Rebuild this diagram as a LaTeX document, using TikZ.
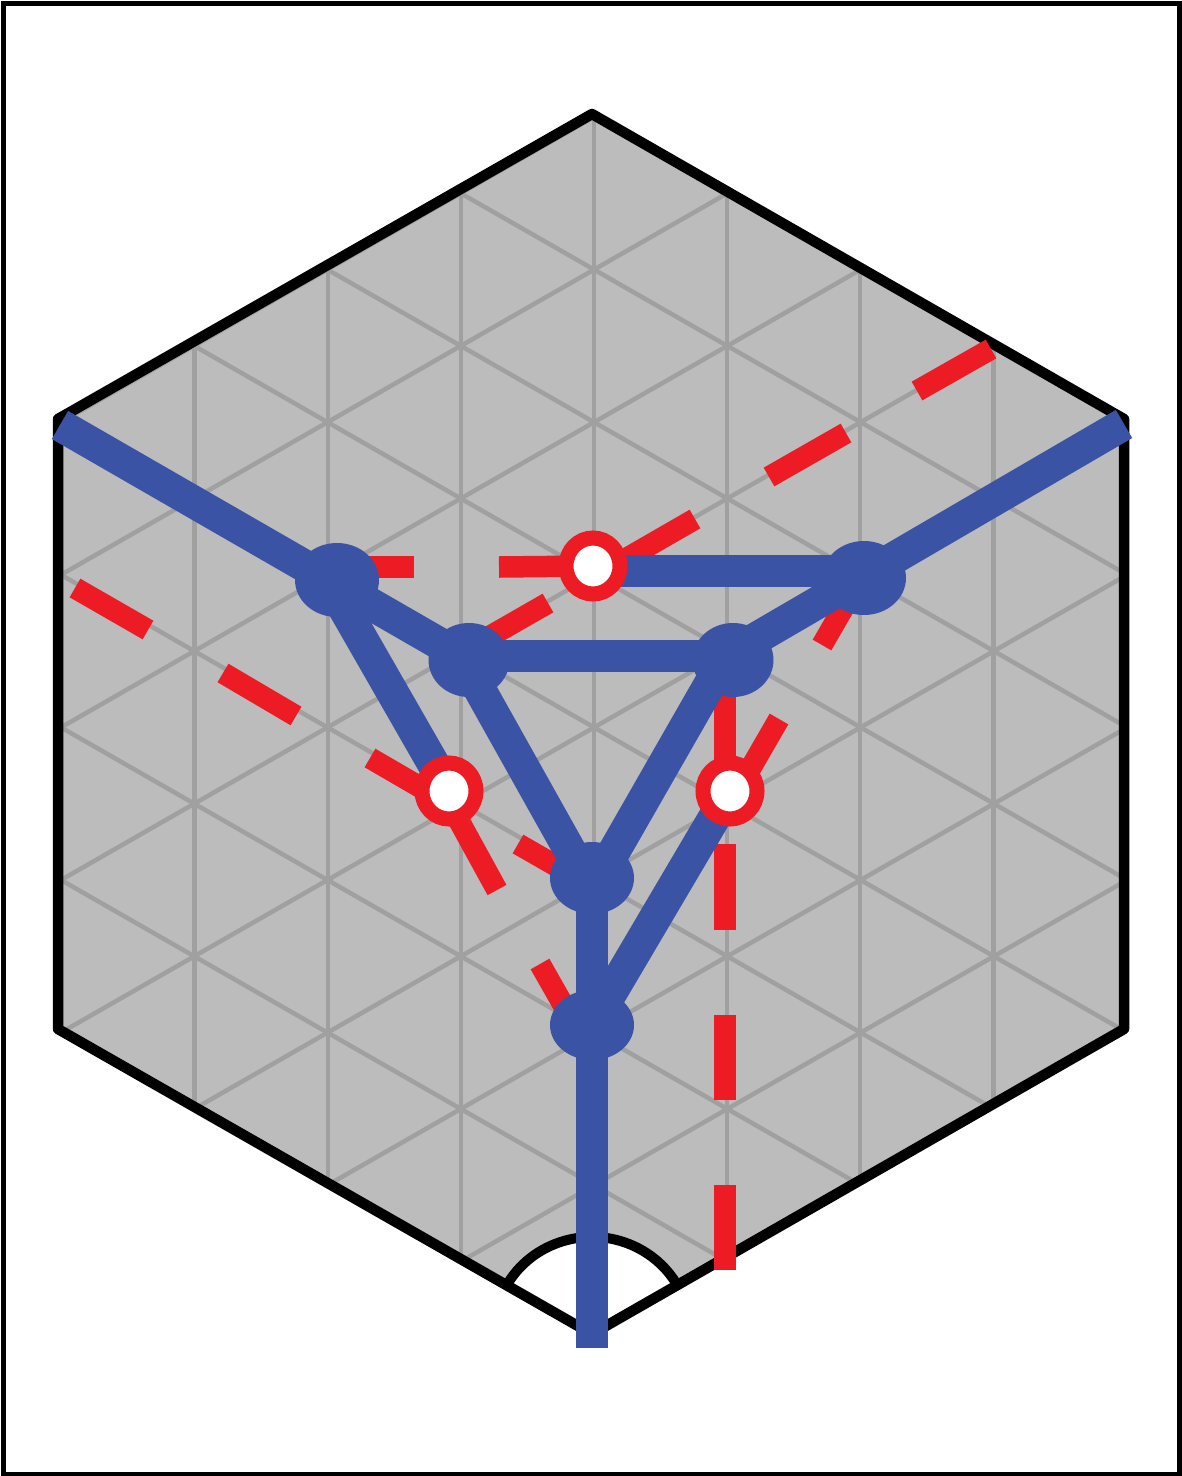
\documentclass[tikz,border=0pt]{standalone}
\usetikzlibrary{shapes.geometric,backgrounds}

\definecolor{cellfill}{RGB}{188,188,188}
\definecolor{gridgray}{RGB}{160,160,160}
\definecolor{webblue}{RGB}{59,83,164}
\definecolor{cutred}{RGB}{237,28,36}

\begin{document}
\begin{tikzpicture}[x=1pt,y=-1pt]
	\tikzset{
		border/.style={line width=10.5pt,line join=round},
		gridline/.style={line width=4.5pt,color=gridgray},
		blueleg/.style={line width=32.5pt,color=webblue},
		redcut/.style={line width=21.5pt,color=cutred},
		vertexdot/.style={ellipse,fill=webblue,minimum width=84pt,minimum height=74pt,inner sep=0pt},
		hollowdot/.style={ellipse,draw=cutred,fill=white,line width=15pt,minimum width=54pt,minimum height=56pt,inner sep=0pt}
	}
	\useasboundingbox (0,0) rectangle (1182,1476);

	% Hexagon corners
	\coordinate (top) at (592,114);
	\coordinate (upright) at (1124,419);
	\coordinate (lowright) at (1124,1029);
	\coordinate (bottom) at (592,1334);
	\coordinate (lowleft) at (58,1029);
	\coordinate (upleft) at (58,419);

	% Free ends of the outer legs
	\coordinate (endleft) at (60,425);
	\coordinate (endright) at (1124,424);
	\coordinate (endbottom) at (592,1348);

	% Filled vertices
	\node[vertexdot] (outerleft) at (337,580) {};
	\node[vertexdot] (outerright) at (864,578) {};
	\node[vertexdot,minimum width=81pt] (innerleft) at (469,660) {};
	\node[vertexdot,minimum width=81pt] (innerright) at (733,660) {};
	\node[vertexdot,minimum height=72pt] (lowerup) at (592,878) {};
	\node[vertexdot,minimum height=70pt] (lowerdown) at (592,1025) {};

	% Hollow vertices
	\node[hollowdot] (holetop) at (593,566) {};
	\node[hollowdot] (holeleft) at (449,791) {};
	\node[hollowdot] (holeright) at (730,791) {};

	% Where the blue legs really meet
	\coordinate (meetleft) at (328,580);
	\coordinate (meetinnerleft) at (461,656);
	\coordinate (meetinnerright) at (726,656);
	\coordinate (meetlow) at (592,890);
	\coordinate (levelhole) at (593,571);
	\coordinate (levelright) at (864,571);

	\begin{scope}[on background layer]
		% Outer frame
		\draw[line width=5pt] (3,3) rectangle (1179,1474);

		% Hexagon with its triangular grid
		\fill[cellfill] (top) -- (upright) -- (lowright) -- (bottom) -- (lowleft) -- (upleft) -- cycle;
		\begin{scope}
			\clip (top) -- (upright) -- (lowright) -- (bottom) -- (lowleft) -- (upleft) -- cycle;
			\foreach \i in {-3,...,3}
				\draw[gridline] ({594+133.1*\i},100) -- ({594+133.1*\i},1350);
			\foreach \k in {-2,...,8} {
				\draw[gridline] (58,{117+152.6*\k-306.9}) -- (1124,{117+152.6*\k+303.4});
				\draw[gridline] (58,{117+152.6*\k+306.9}) -- (1124,{117+152.6*\k-303.4});
			}
		\end{scope}

		% White sector at the bottom corner
		\fill[white] (bottom) -- (508,1283) arc[start angle=149,end angle=31,x radius=98,y radius=-95] -- cycle;
		\draw[line width=10pt] (508,1283) arc[start angle=149,end angle=31,x radius=98,y radius=-95];
		\draw[border] (upleft) -- (top) -- (upright) -- (lowright) -- (bottom) -- (lowleft) -- cycle;

		% Red dashes, upper right diagonal
		\draw[redcut] (991,349) -- (917,391);
		\draw[redcut] (846,433) -- (769,477);
		\draw[redcut] (695,519) -- (610,568);
		\draw[redcut] (548,603) -- (480,642);

		% Red dashes, top row
		\draw[redcut] (340,567) -- (414,567);
		\draw[redcut] (499,567) -- (holetop.center);

		% Red dashes, left diagonal
		\draw[redcut] (75,588) -- (148,630);
		\draw[redcut] (223,673) -- (296,716);
		\draw[redcut] (370,758) -- (425,790);
		\draw[redcut] (518,844) -- (565,871);

		% Red dashes, short pieces
		\draw[redcut] (497,890) -- (452,808);
		\draw[redcut] (822,645) -- (848,600);
		\draw[redcut] (779,719) -- (742,783);
		\draw[redcut] (540,964) -- (565,1008);

		% Red dashes, vertical
		\draw[redcut] (725,680) -- (725,790);
		\draw[redcut] (725,844) -- (725,930);
		\draw[redcut] (725,1015) -- (725,1100);
		\draw[redcut] (725,1185) -- (725,1270);

		% Blue legs
		\draw[blueleg] (endleft) -- (meetinnerleft);
		\draw[blueleg] (endright) -- (meetinnerright);
		\draw[blueleg] (meetleft) -- (holeleft.center);
		\draw[blueleg] (levelhole) -- (levelright);
		\draw[blueleg] (meetinnerleft) -- (meetinnerright);
		\draw[blueleg] (meetinnerleft) -- (meetlow);
		\draw[blueleg] (meetinnerright) -- (meetlow);
		\draw[blueleg] (holeright.center) -- (lowerdown.center);
		\draw[blueleg] (lowerup.center) -- (endbottom);
	\end{scope}
\end{tikzpicture}
\end{document}
